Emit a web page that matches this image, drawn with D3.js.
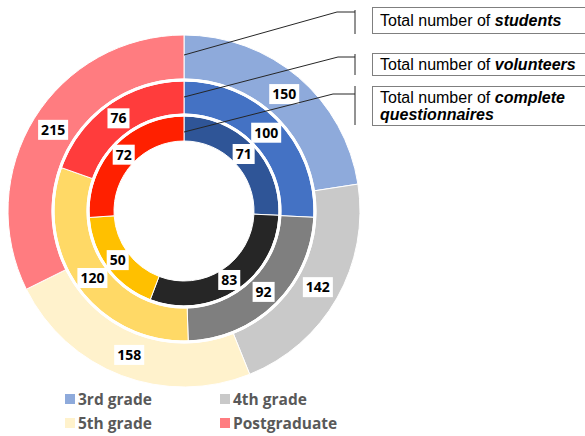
<!DOCTYPE html>
<html>
<head>
<meta charset="utf-8">
<script src="https://cdn.jsdelivr.net/npm/d3@7"></script>
<style>
  body { margin: 0; background: #fff; }
  svg { display: block; }
  .lbl { font-family: "Open Sans", sans-serif; font-weight: 700; font-size: 14px; fill: #000; }
  .note { font-family: "Liberation Sans", Arial, sans-serif; font-size: 16px; fill: #000; }
  .leg { font-family: "Open Sans", sans-serif; font-weight: 700; font-size: 15.5px; fill: #595959; }
</style>
</head>
<body>
<div id="vis"></div>
<script>
const WIDTH = 585;
const HEIGHT = 436;

// datos
const CATEGORIAS = ["3rd grade", "4th grade", "5th grade", "Postgraduate"];
const STUDENTS = [150, 142, 158, 215];
const VOLUNTEERS = [100, 92, 120, 76];
const COMPLETE = [71, 83, 50, 72];
const NOTAS = ["students", "volunteers", "complete questionnaires"];

const COLORES = [
  ["#8eaadb", "#c9c9c9", "#fff2cc", "#ff7c80"],  // anillo externo
  ["#4472c4", "#7f7f7f", "#ffd966", "#ff3c3c"],  // anillo medio
  ["#2f5597", "#262626", "#ffc000", "#ff2000"]   // anillo interno
];

const SVG = d3.select("#vis").append("svg")
  .attr("width", WIDTH).attr("height", HEIGHT);

const CX = 184, CY = 211;
const ANILLOS = [
  { datos: STUDENTS, r0: 132, r1: 176 },
  { datos: VOLUNTEERS, r0: 97, r1: 130 },
  { datos: COMPLETE, r0: 70, r1: 95 }
];

const pie = d3.pie().sort(null).value(d => d);
const g = SVG.append("g").attr("transform", `translate(${CX},${CY})`);

ANILLOS.forEach((an, i) => {
  const arc = d3.arc().innerRadius(an.r0).outerRadius(an.r1);
  const arcos = pie(an.datos);
  an.arcos = arcos;
  an.arc = arc;
  g.selectAll(null).data(arcos).join("path")
    .attr("d", arc)
    .attr("fill", (d, j) => COLORES[i][j])
    .attr("stroke", "#fff")
    .attr("stroke-width", 1);
});

// separadores blancos entre anillos
[131, 96].forEach(r => {
  g.append("circle").attr("r", r).attr("fill", "none")
    .attr("stroke", "#fff").attr("stroke-width", 3);
});

// lineas guia (desde el centro de cada anillo en angulo 0)
const GUIAS = [
  { r: 156, x: 337, y: 12, y0: 10, y1: 34 },
  { r: 114, x: 338, y: 57, y0: 54, y1: 75 },
  { r: 79, x: 333, y: 94, y0: 86, y1: 125 }
];
GUIAS.forEach(gu => {
  SVG.append("polyline")
    .attr("points", `${CX},${CY - gu.r} ${gu.x},${gu.y} 355,${gu.y}`)
    .attr("fill", "none").attr("stroke", "#262626").attr("stroke-width", 1);
  SVG.append("line")
    .attr("x1", 355).attr("x2", 355).attr("y1", gu.y0).attr("y2", gu.y1)
    .attr("stroke", "#262626").attr("stroke-width", 1);
});

// etiquetas de valores
ANILLOS.forEach(an => {
  an.arcos.forEach(d => {
    const [x, y] = an.arc.centroid(d);
    const lg = g.append("g").attr("transform", `translate(${x},${y})`);
    const t = lg.append("text").attr("class", "lbl")
      .attr("text-anchor", "middle").attr("dy", "0.35em").text(d.data);
    const w = t.node().getComputedTextLength();
    lg.insert("rect", "text")
      .attr("x", -w / 2 - 3).attr("y", -10).attr("width", w + 6).attr("height", 20)
      .attr("fill", "#fff");
  });
});

// cajas de notas
const CAJAS = [
  { y: 7, h: 26, lineas: [["Total number of ", NOTAS[0]]] },
  { y: 53, h: 22, lineas: [["Total number of ", NOTAS[1]]] },
  { y: 86, h: 39, lineas: [["Total number of ", "complete"], ["", "questionnaires"]] }
];
CAJAS.forEach(c => {
  SVG.append("rect").attr("x", 372.5).attr("y", c.y + 0.5)
    .attr("width", 230).attr("height", c.h)
    .attr("fill", "#fff").attr("stroke", "#7f7f7f").attr("stroke-width", 1);
  c.lineas.forEach((l, k) => {
    const t = SVG.append("text").attr("class", "note")
      .attr("x", 380)
      .attr("y", c.lineas.length === 1 ? c.y + c.h / 2 + 6 : c.y + 17 + k * 17);
    t.append("tspan").text(l[0]);
    t.append("tspan").attr("font-weight", "bold").attr("font-style", "italic").text(l[1]);
  });
});

// leyenda
const leyenda = SVG.append("g");
CATEGORIAS.forEach((c, i) => {
  const x = i % 2 === 0 ? 65 : 220;
  const y = i < 2 ? 399 : 423;
  leyenda.append("rect").attr("x", x).attr("y", y - 5).attr("width", 10).attr("height", 10)
    .attr("fill", COLORES[0][i]);
  leyenda.append("text").attr("class", "leg").attr("x", x + 13).attr("y", y + 6).text(c);
});
</script>
</body>
</html>
